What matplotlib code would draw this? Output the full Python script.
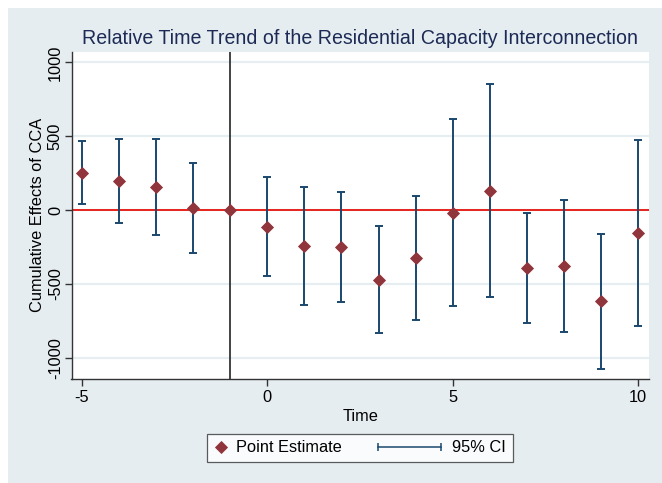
import matplotlib
matplotlib.use("Agg")
import matplotlib.pyplot as plt
from matplotlib.lines import Line2D
from matplotlib.patches import Rectangle
from matplotlib.legend_handler import HandlerBase

# ---- data ----
time = [-5, -4, -3, -2, -1, 0, 1, 2, 3, 4, 5, 6, 7, 8, 9, 10]
estimate = [250, 196, 156, 11, 0, -116, -244, -251, -472, -327, -20, 131, -395, -379, -618, -158]
ci_time = [-5, -4, -3, -2, 0, 1, 2, 3, 4, 5, 6, 7, 8, 9, 10]
ci_low = [41, -88, -169, -289, -450, -641, -625, -833, -745, -652, -587, -767, -826, -1074, -786]
ci_high = [465, 481, 481, 316, 223, 153, 124, -111, 95, 614, 851, -20, 70, -160, 472]
xticks = [-5, 0, 5, 10]
yticks = [-1000, -500, 0, 500, 1000]
title = "Relative Time Trend of the Residential Capacity Interconnection"
xlabel = "Time"
ylabel = "Cumulative Effects of CCA"
legend_labels = ["Point Estimate", "95% CI"]

NAVY = "#1a476f"
MAROON = "#90353b"
BG = "#e5edf1"
GRID = "#e6eef2"
AXC = "#333333"

plt.rcParams['font.family'] = ['Liberation Sans', 'DejaVu Sans']

W, H = 662, 483
fig = plt.figure(figsize=(W / 100, H / 100), dpi=100)
fig.patch.set_facecolor("white")
fig.patches.append(Rectangle((8 / W, 0), 1 - 8 / W, 1 - 8 / H, transform=fig.transFigure,
                             facecolor=BG, edgecolor="none", zorder=-10))

ax = fig.add_axes([71.5 / W, 1 - 378.7 / H, (649 - 71.5) / W, (378.7 - 52) / H])
ax.set_facecolor("white")

ax.set_xlim(-5.283, 10.296)
ax.set_ylim(-1142, 1070)

for s in ["top", "right"]:
    ax.spines[s].set_visible(False)
for s in ["left", "bottom"]:
    ax.spines[s].set_color(AXC)
    ax.spines[s].set_linewidth(1.0)

ax.set_xticks(xticks)
ax.set_yticks(yticks)
ax.set_xticklabels([str(v) for v in xticks], fontsize=11.8)
ax.set_yticklabels([str(v) for v in yticks], fontsize=11.8, rotation=90, va="center")
ax.tick_params(axis="both", direction="out", length=5, width=1.0, color=AXC)
ax.tick_params(axis="x", pad=3)
ax.tick_params(axis="y", pad=1.2)
ax.yaxis.grid(True, color=GRID, linewidth=1.6)
ax.set_axisbelow(True)

ax.axhline(0, color="#e8221c", linewidth=1.4, zorder=2)
ax.axvline(-1, color="#111111", linewidth=1.1, zorder=2)

mid = [(a + b) / 2 for a, b in zip(ci_low, ci_high)]
ax.errorbar(ci_time, mid,
            yerr=[[m - a for m, a in zip(mid, ci_low)],
                  [b - m for m, b in zip(mid, ci_high)]],
            fmt="none", ecolor=NAVY, elinewidth=1.4, capsize=3.0, capthick=1.4, zorder=3)
ax.plot(time, estimate, linestyle="none", marker="D", markersize=6.0,
        color=MAROON, markeredgecolor=MAROON, markeredgewidth=0.6, zorder=4)

ax.set_xlabel(xlabel, fontsize=11.8, labelpad=3)
ax.set_ylabel(ylabel, fontsize=11.8, labelpad=2)

fig.text(360 / W, 1 - 38 / H, title, ha="center", va="center", fontsize=14.1, color="#1c2a55")


class HandlerDiamond(HandlerBase):
    def create_artists(self, legend, orig_handle, xdescent, ydescent, width, height, fontsize, trans):
        y = height / 2 - ydescent
        m = Line2D([width * 0.45 - xdescent], [y], linestyle="none", marker="D", markersize=6.0,
                   color=MAROON, markeredgewidth=0.6, markeredgecolor=MAROON, transform=trans)
        return [m]


class HandlerCI(HandlerBase):
    def create_artists(self, legend, orig_handle, xdescent, ydescent, width, height, fontsize, trans):
        y = height / 2 - ydescent
        x1 = width - xdescent - 3
        x0 = x1 - 45
        ln = Line2D([x0, x1], [y, y], color=NAVY, linewidth=1.1, marker="|", markersize=6,
                    markeredgewidth=1.1, transform=trans)
        return [ln]


h1 = Line2D([], [], label=legend_labels[0])
h2 = Line2D([], [], label=legend_labels[1])
leg = fig.legend(handles=[h1, h2], labels=legend_labels, ncol=2,
                 handler_map={h1: HandlerDiamond(), h2: HandlerCI()},
                 loc="center", bbox_to_anchor=(360 / W, 1 - 448 / H),
                 fontsize=11.8, frameon=True, fancybox=False, edgecolor="#333333",
                 handlelength=0.9, handletextpad=0.45, columnspacing=5.4, borderpad=0.42)
leg.get_frame().set_linewidth(0.9)
leg.get_frame().set_facecolor("white")

fig.savefig("out.png", dpi=100, facecolor=fig.get_facecolor())
